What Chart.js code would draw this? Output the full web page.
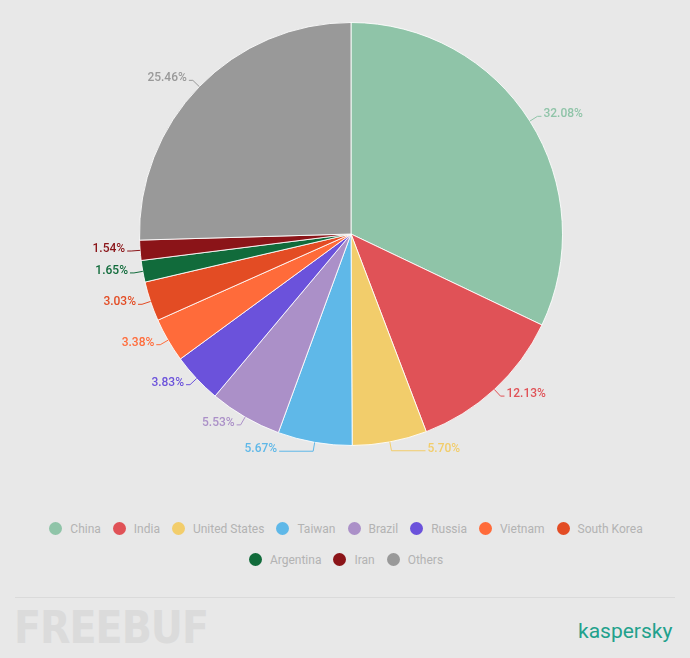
<!DOCTYPE html>
<html>
<head>
<meta charset="utf-8">
<script src="https://cdn.jsdelivr.net/npm/chart.js@4/dist/chart.umd.min.js"></script>
<style>
  html, body { margin: 0; padding: 0; }
  body { width: 690px; height: 658px; background: #e8e8e8; position: relative; overflow: hidden; font-family: Roboto, "Noto Sans", sans-serif; }
  #wrap { position: absolute; left: 0; top: 0; width: 690px; height: 468px; }
  #legend { position: absolute; left: 40px; top: 519px; width: 612px; display: flex; flex-wrap: wrap; justify-content: center; row-gap: 12px; }
  .item { display: flex; align-items: center; margin: 0 6px; font-size: 12px; color: #b3b3b3; height: 19px; }
  .dot { width: 13px; height: 13px; border-radius: 50%; margin-right: 8px; }
  #sep { position: absolute; left: 15px; top: 597px; width: 660px; height: 1px; background: #dadada; }
  #wm { position: absolute; left: 14px; top: 602px; font: bold 44px "DejaVu Sans Condensed", "DejaVu Sans", sans-serif; color: #dbdbdb; letter-spacing: -1px; }
  #brand { position: absolute; left: 578px; top: 619px; font-size: 21px; color: #22a18c; }
</style>
</head>
<body>
<div id="wrap"><canvas id="pie"></canvas></div>
<div id="legend"></div>
<div id="sep"></div>
<div id="wm">FREEBUF</div>
<div id="brand">kaspersky</div>
<script>
const countries = ['China','India','United States','Taiwan','Brazil','Russia','Vietnam','South Korea','Argentina','Iran','Others'];
const shares = [32.08, 12.13, 5.70, 5.67, 5.53, 3.83, 3.38, 3.03, 1.65, 1.54, 25.46];
const colors = ['#8fc4a8','#e05257','#f2cd6b','#5fb8e8','#ab90c8','#6b52db','#ff6b3a','#e34c24','#116b3b','#8b1418','#999999'];

const outsideLabels = {
  id: 'outsideLabels',
  afterDatasetsDraw(chart) {
    const ctx = chart.ctx;
    const arcs = chart.getDatasetMeta(0).data;
    ctx.save();
    ctx.font = '500 12px Roboto';
    ctx.lineWidth = 1;
    arcs.forEach((arc, i) => {
      const mid = (arc.startAngle + arc.endAngle) / 2;
      const r = arc.outerRadius;
      const c = Math.cos(mid), s = Math.sin(mid);
      const x1 = arc.x + c * r, y1 = arc.y + s * r;
      const x2 = arc.x + c * (r + 9), y2 = arc.y + s * (r + 9);
      const dir = c >= 0 ? 1 : -1;
      const len = s > 0.97 ? 34 : 4;
      const x3 = x2 + dir * len;
      ctx.strokeStyle = colors[i];
      ctx.beginPath();
      ctx.moveTo(x1, y1); ctx.lineTo(x2, y2); ctx.lineTo(x3, y2);
      ctx.stroke();
      ctx.fillStyle = colors[i];
      ctx.textAlign = dir > 0 ? 'left' : 'right';
      ctx.textBaseline = 'middle';
      ctx.fillText(shares[i].toFixed(2) + '%', x3 + dir * 2, y2 - 2);
    });
    ctx.restore();
  }
};

const chart = new Chart(document.getElementById('pie'), {
  type: 'pie',
  data: {
    labels: countries,
    datasets: [{
      data: shares,
      backgroundColor: colors,
      borderColor: 'rgba(255,255,255,0.85)',
      borderWidth: 1
    }]
  },
  options: {
    responsive: true,
    maintainAspectRatio: false,
    animation: false,
    layout: { padding: { top: 22, bottom: 22, left: 12, right: 0 } },
    plugins: { legend: { display: false }, tooltip: { enabled: false } }
  },
  plugins: [outsideLabels]
});

document.getElementById('legend').innerHTML = countries.map((n, i) =>
  `<div class="item"><span class="dot" style="background:${colors[i]}"></span>${n}</div>`
).join('');
</script>
</body>
</html>
